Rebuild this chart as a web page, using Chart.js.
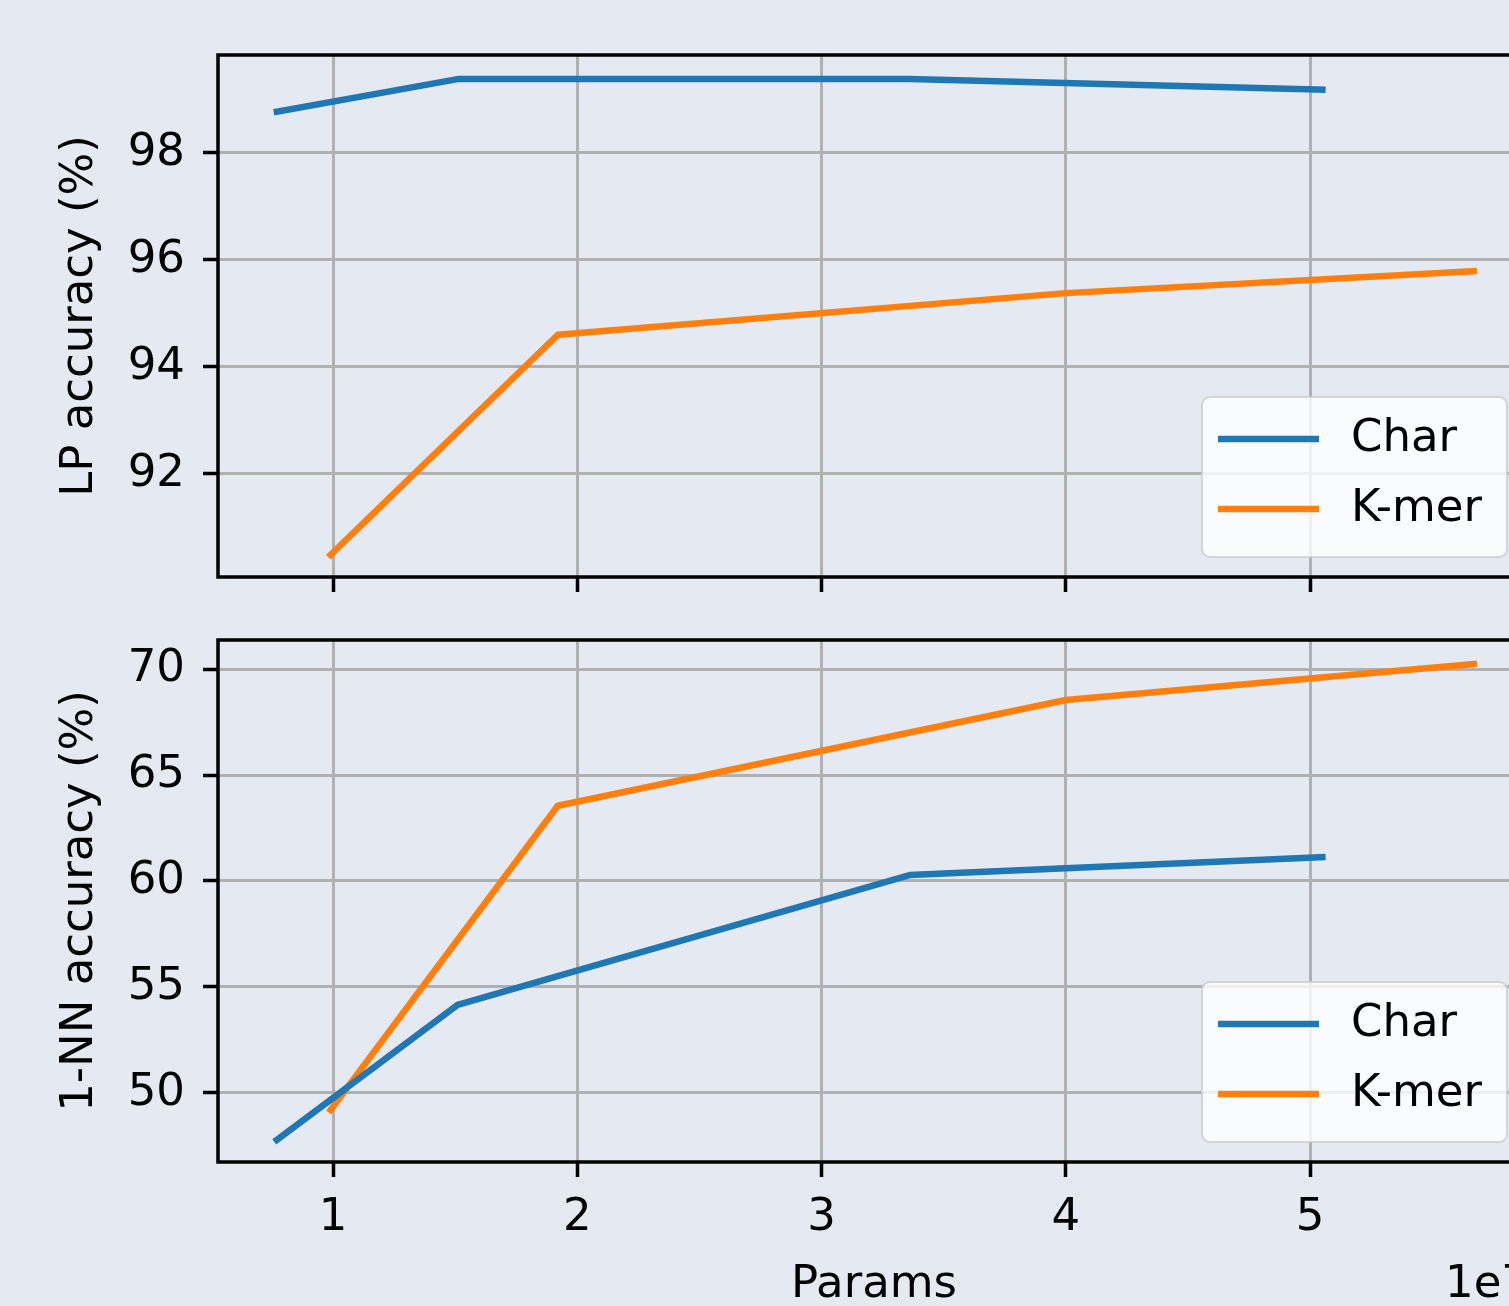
<!DOCTYPE html>
<html>
<head>
<meta charset="utf-8">
<script src="https://cdn.jsdelivr.net/npm/chart.js@4.4.0/dist/chart.umd.min.js"></script>
<style>
  html, body { margin: 0; padding: 0; background: #e5e9f1; overflow: hidden; width: 1509px; height: 1306px; }
  canvas { position: absolute; left: 0; }
  #lpChart { top: 0; }
  #nnChart { top: 600px; }
</style>
</head>
<body>
<canvas id="lpChart" width="1540" height="600"></canvas>
<canvas id="nnChart" width="1540" height="706"></canvas>
<script>
// params (x1e7) for each model size
const charParams = [0.77, 1.51, 3.36, 5.05];
const kmerParams = [0.99, 1.92, 4.0, 5.67];

// linear probe accuracy (%)
const lpChar = [98.77, 99.38, 99.38, 99.18];
const lpKmer = [90.49, 94.6, 95.38, 95.79];

// 1-NN accuracy (%)
const nnChar = [47.78, 54.15, 60.28, 61.13];
const nnKmer = [49.2, 63.55, 68.54, 70.24];

const xTicks = [1, 2, 3, 4, 5];
const lpTicks = [92, 94, 96, 98];
const nnTicks = [50, 55, 60, 65, 70];

const FONT = 'DejaVu Sans';
const COLORS = { char: '#1f77b4', kmer: '#ff7f0e', grid: '#b0b0b0' };

const toPoints = (xs, ys) => xs.map((x, i) => ({ x, y: ys[i] }));

// black box around the plot area (matplotlib spines)
const framePlugin = {
  id: 'frame',
  afterDraw(chart) {
    const { ctx, chartArea: a } = chart;
    ctx.save();
    ctx.strokeStyle = '#000';
    ctx.lineWidth = 3.5;
    ctx.strokeRect(a.left, a.top, a.right - a.left, a.bottom - a.top);
    ctx.restore();
  }
};

// matplotlib-like legend in the lower right corner
const mplLegend = {
  id: 'mplLegend',
  afterDatasetsDraw(chart) {
    const { ctx, chartArea: a } = chart;
    const w = 305, h = 160;
    const x = a.right - 23 - w;
    const y = a.bottom - 20 - h;
    ctx.save();
    ctx.beginPath();
    ctx.roundRect(x, y, w, h, 8);
    ctx.fillStyle = 'rgba(255,255,255,0.8)';
    ctx.fill();
    ctx.strokeStyle = 'rgba(204,204,204,0.8)';
    ctx.lineWidth = 2;
    ctx.stroke();
    ctx.font = '45px "' + FONT + '"';
    ctx.textBaseline = 'middle';
    chart.data.datasets.forEach((ds, i) => {
      const rowY = y + 42 + i * 70;
      ctx.strokeStyle = ds.borderColor;
      ctx.lineWidth = 6.5;
      ctx.beginPath();
      ctx.moveTo(x + 16, rowY);
      ctx.lineTo(x + 117, rowY);
      ctx.stroke();
      ctx.fillStyle = '#000';
      ctx.fillText(ds.label, x + 149, rowY);
    });
    ctx.restore();
  }
};

// "1e7" offset text under the right end of the x axis
const offsetText = {
  id: 'offsetText',
  afterDraw(chart, args, opts) {
    if (!opts.text) return;
    const { ctx, chartArea: a } = chart;
    ctx.save();
    ctx.font = '45px "' + FONT + '"';
    ctx.fillStyle = '#000';
    ctx.textAlign = 'right';
    ctx.textBaseline = 'middle';
    ctx.fillText(opts.text, a.right, chart.height - 21);
    ctx.restore();
  }
};

function datasets(charVals, kmerVals) {
  const line = { borderWidth: 6.5, pointRadius: 0, tension: 0, borderJoinStyle: 'round', borderCapStyle: 'square' };
  return [
    { label: 'Char', data: toPoints(charParams, charVals), borderColor: COLORS.char, ...line },
    { label: 'K-mer', data: toPoints(kmerParams, kmerVals), borderColor: COLORS.kmer, ...line }
  ];
}

function makeChart(id, cfg) {
  const gridOpts = { color: COLORS.grid, lineWidth: 3, tickColor: '#000', tickWidth: 3.5, tickLength: 15 };
  const tickFont = { family: FONT, size: 45 };
  return new Chart(document.getElementById(id), {
    type: 'line',
    data: { datasets: datasets(cfg.charVals, cfg.kmerVals) },
    options: {
      responsive: false,
      animation: false,
      layout: { padding: { left: 0, right: 10, top: cfg.top, bottom: 0 } },
      plugins: {
        legend: { display: false },
        tooltip: { enabled: false },
        offsetText: { text: cfg.offset }
      },
      scales: {
        x: {
          type: 'linear',
          min: 0.529,
          max: 5.9,
          afterBuildTicks: s => { s.ticks = xTicks.map(v => ({ value: v })); },
          afterFit: s => { s.height = cfg.xHeight; s.paddingLeft = 0; s.paddingRight = 0; },
          grid: gridOpts,
          border: { display: false },
          ticks: { display: cfg.xLabels, font: tickFont, color: '#000', padding: 14, maxRotation: 0, autoSkip: false },
          title: { display: cfg.xLabels, text: 'Params', font: tickFont, color: '#000', padding: { top: 0, bottom: -6 } }
        },
        y: {
          type: 'linear',
          min: cfg.yMin,
          max: cfg.yMax,
          afterBuildTicks: s => { s.ticks = cfg.yTicks.map(v => ({ value: v })); },
          afterFit: s => { s.width = 218; s.paddingTop = 0; s.paddingBottom = 0; },
          grid: gridOpts,
          border: { display: false },
          ticks: { font: tickFont, color: '#000', padding: 18 },
          title: { display: true, text: cfg.yTitle, font: tickFont, color: '#000', padding: { top: 53, bottom: 0 } }
        }
      }
    },
    plugins: [mplLegend, framePlugin, offsetText]
  });
}

makeChart('lpChart', {
  charVals: lpChar, kmerVals: lpKmer,
  yMin: 90.075, yMax: 99.83, yTicks: lpTicks,
  yTitle: 'LP accuracy (%)',
  top: 55, xHeight: 23, xLabels: false, offset: ''
});

makeChart('nnChart', {
  charVals: nnChar, kmerVals: nnKmer,
  yMin: 46.74, yMax: 71.37, yTicks: nnTicks,
  yTitle: '1-NN accuracy (%)',
  top: 40, xHeight: 144, xLabels: true, offset: '1e7'
});
</script>
</body>
</html>
